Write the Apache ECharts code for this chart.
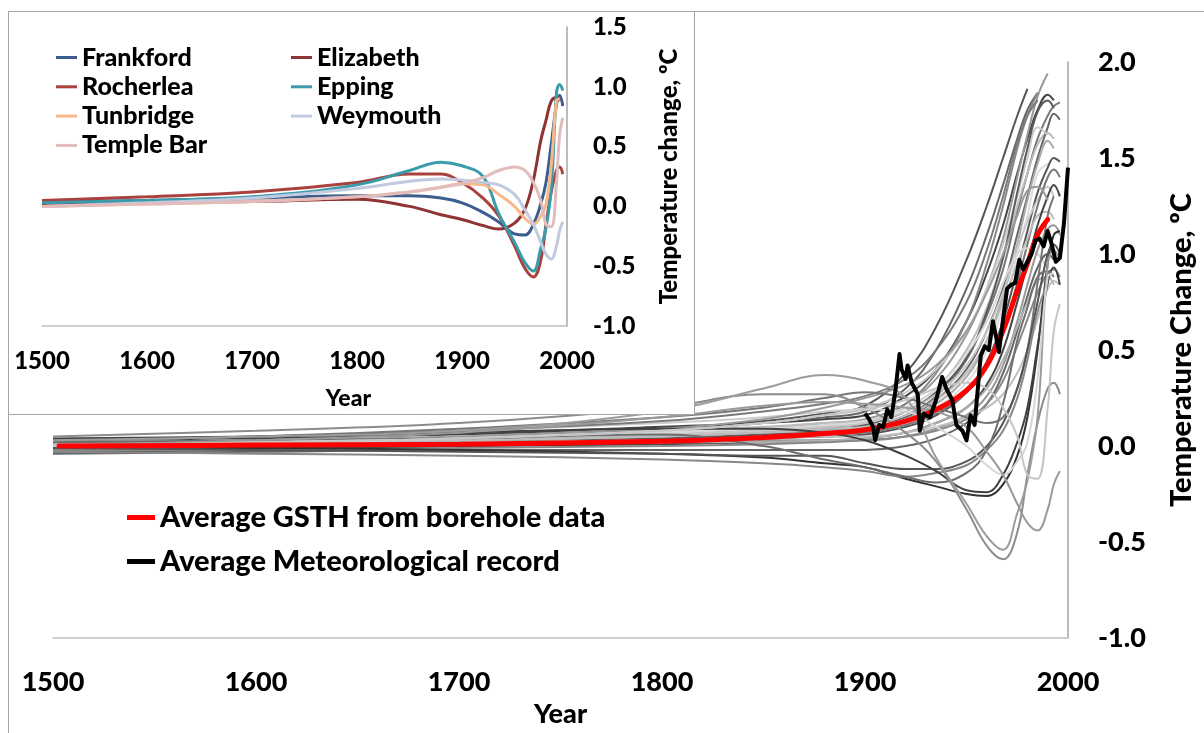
<!DOCTYPE html>
<html>
<head>
<meta charset="utf-8">
<title>Ground surface temperature histories</title>
<script src="https://cdn.jsdelivr.net/npm/echarts@6/dist/echarts.min.js"></script>
<style>
  html, body { margin: 0; padding: 0; background: #fff; }
  #chart { width: 1204px; height: 733px; }
</style>
</head>
<body>
<div id="chart"></div>
<script>
// years at which every borehole curve was read
const years = [1500, 1600, 1700, 1800, 1850, 1880, 1900, 1920, 1935, 1950, 1960, 1968, 1975, 1980, 1985, 1990, 1993, 1996];

// the seven sites of the inset (also drawn grey in the main chart)
const frankford = [0.04, 0.05, 0.07, 0.09, 0.09, 0.07, 0.03, -0.05, -0.13, -0.23, -0.24, -0.15, 0.02, 0.20, 0.52, 0.85, 0.93, 0.84];
const elizabeth = [0.02, 0.03, 0.04, 0.06, 0.00, -0.07, -0.11, -0.16, -0.19, -0.14, -0.02, 0.22, 0.55, 0.72, 0.88, 0.91, 0.88, null];
const rocherlea = [0.05, 0.08, 0.12, 0.20, 0.27, 0.27, 0.20, 0.07, -0.08, -0.33, -0.52, -0.59, -0.45, -0.15, 0.12, 0.30, 0.33, 0.27];
const epping = [0.03, 0.05, 0.08, 0.18, 0.30, 0.37, 0.34, 0.25, -0.06, -0.30, -0.47, -0.54, -0.35, -0.18, 0.15, 0.95, 1.02, 0.97];
const tunbridge = [0.00, 0.02, 0.04, 0.08, 0.12, 0.16, 0.19, 0.18, 0.10, 0.00, -0.10, -0.15, -0.08, 0.02, 0.35, 0.88, 0.90, null];
const weymouth = [0.00, 0.03, 0.07, 0.15, 0.21, 0.23, 0.22, 0.20, 0.18, 0.10, -0.03, -0.15, -0.30, -0.40, -0.44, -0.33, -0.20, -0.13];
const templeBar = [0.00, 0.02, 0.04, 0.08, 0.12, 0.16, 0.19, 0.24, 0.30, 0.33, 0.30, 0.20, 0.05, -0.15, -0.17, 0.20, 0.60, 0.74];

// other boreholes, main chart only
const strongRisers = [
  [0.02, 0.03, 0.05, 0.09, 0.13, 0.17, 0.21, 0.38, 0.62, 0.97, 1.25, 1.50, 1.72, 1.86, null, null, null, null],
  [0.00, 0.02, 0.04, 0.08, 0.12, 0.15, 0.18, 0.30, 0.50, 0.82, 1.10, 1.36, 1.60, 1.75, 1.84, null, null, null],
  [0.03, 0.04, 0.06, 0.10, 0.12, 0.14, 0.16, 0.26, 0.40, 0.65, 0.90, 1.15, 1.42, 1.60, 1.75, 1.83, 1.80, null],
  [0.01, 0.02, 0.03, 0.06, 0.09, 0.12, 0.14, 0.22, 0.35, 0.58, 0.82, 1.08, 1.40, 1.62, 1.82, 1.94, null, null],
  [-0.02, 0.00, 0.02, 0.05, 0.08, 0.10, 0.12, 0.22, 0.38, 0.65, 0.95, 1.25, 1.55, 1.72, 1.84, null, null, null],
  [0.00, 0.01, 0.02, 0.04, 0.06, 0.08, 0.10, 0.16, 0.26, 0.45, 0.68, 0.92, 1.22, 1.42, 1.60, 1.72, 1.77, 1.79],
  [0.02, 0.03, 0.05, 0.08, 0.10, 0.12, 0.13, 0.20, 0.30, 0.50, 0.72, 0.98, 1.25, 1.42, 1.57, 1.63, 1.60, null],
  [0.00, 0.01, 0.03, 0.05, 0.07, 0.09, 0.10, 0.15, 0.24, 0.40, 0.60, 0.82, 1.10, 1.30, 1.50, 1.66, 1.73, 1.70],
  [0.03, 0.05, 0.08, 0.12, 0.15, 0.18, 0.20, 0.28, 0.40, 0.60, 0.82, 1.05, 1.30, 1.50, 1.66, 1.62, null, null],
  [0.03, 0.05, 0.08, 0.13, 0.18, 0.22, 0.26, 0.35, 0.50, 0.75, 1.02, 1.30, 1.58, 1.72, 1.80, null, null, null],
  [0.00, 0.01, 0.02, 0.04, 0.06, 0.08, 0.11, 0.18, 0.28, 0.46, 0.70, 0.98, 1.32, 1.55, 1.74, 1.80, 1.76, null]
];
const moderateRisers = [
  [0.01, 0.02, 0.03, 0.05, 0.07, 0.08, 0.09, 0.14, 0.22, 0.36, 0.55, 0.78, 1.05, 1.28, 1.47, 1.59, 1.55, null],
  [-0.01, 0.00, 0.01, 0.03, 0.05, 0.07, 0.08, 0.13, 0.20, 0.33, 0.50, 0.72, 1.00, 1.20, 1.42, 1.47, null, null],
  [-0.03, -0.02, 0.00, 0.02, 0.04, 0.05, 0.06, 0.10, 0.16, 0.28, 0.44, 0.65, 0.92, 1.12, 1.32, 1.45, 1.50, 1.48],
  [0.02, 0.03, 0.04, 0.06, 0.08, 0.10, 0.12, 0.18, 0.27, 0.42, 0.60, 0.80, 1.03, 1.17, 1.28, 1.35, 1.30, null],
  [0.00, 0.01, 0.02, 0.03, 0.05, 0.06, 0.07, 0.11, 0.17, 0.28, 0.42, 0.60, 0.85, 1.05, 1.25, 1.40, 1.44, 1.40],
  [0.01, 0.02, 0.03, 0.05, 0.07, 0.09, 0.10, 0.16, 0.24, 0.38, 0.55, 0.75, 0.95, 1.08, 1.20, 1.22, 1.18, null],
  [-0.02, -0.01, 0.00, 0.01, 0.02, 0.03, 0.04, 0.07, 0.12, 0.20, 0.32, 0.50, 0.75, 0.95, 1.15, 1.30, 1.36, 1.30],
  [0.02, 0.03, 0.05, 0.07, 0.09, 0.11, 0.13, 0.20, 0.30, 0.48, 0.65, 0.85, 1.00, 1.03, 1.00, 0.92, null, null],
  [-0.01, 0.00, 0.01, 0.02, 0.03, 0.03, 0.03, 0.05, 0.09, 0.16, 0.26, 0.42, 0.65, 0.84, 1.02, 1.13, 1.15, 1.10],
  [0.02, 0.03, 0.05, 0.09, 0.14, 0.20, 0.25, 0.32, 0.42, 0.60, 0.80, 1.00, 1.20, 1.33, 1.35, 1.28, null, null]
];
const lateRisers = [
  [-0.04, -0.03, -0.02, -0.02, -0.02, -0.02, -0.02, 0.00, 0.04, 0.12, 0.22, 0.38, 0.60, 0.78, 0.93, 1.00, 0.97, null],
  [0.00, 0.00, 0.01, 0.02, 0.02, 0.03, 0.04, 0.07, 0.12, 0.20, 0.30, 0.45, 0.62, 0.75, 0.86, 0.88, 0.84, null],
  [-0.02, -0.02, -0.01, 0.00, 0.01, 0.02, 0.03, 0.05, 0.08, 0.14, 0.22, 0.34, 0.52, 0.66, 0.80, 0.90, 0.92, 0.88],
  [0.01, 0.01, 0.02, 0.03, 0.04, 0.05, 0.05, 0.07, 0.10, 0.15, 0.20, 0.27, 0.38, 0.50, 0.66, 0.82, 0.86, 0.84],
  [0.00, -0.01, -0.02, -0.04, -0.06, -0.09, -0.11, -0.17, -0.21, -0.25, -0.26, -0.20, -0.05, 0.15, 0.50, 0.95, 1.10, 1.12],
  [0.03, 0.05, 0.09, 0.15, 0.20, 0.25, 0.28, 0.25, 0.20, 0.15, 0.12, 0.15, 0.30, 0.50, 0.85, 1.20, 1.30, null],
  [-0.01, -0.02, -0.03, -0.04, -0.05, -0.05, -0.09, -0.12, -0.12, -0.08, 0.00, 0.12, 0.30, 0.50, 0.75, 1.00, 1.05, 1.00],
  [-0.03, -0.04, -0.05, -0.07, -0.09, -0.11, -0.13, -0.16, -0.14, -0.10, -0.02, 0.08, 0.25, 0.45, 0.70, 0.85, null, null]
];

// average ground surface temperature history
const gsthYears = [1503, 1600, 1700, 1800, 1850, 1880, 1900, 1920, 1935, 1950, 1960, 1968, 1975, 1980, 1985, 1990];
const gsthValues = [0.00, 0.005, 0.01, 0.025, 0.045, 0.065, 0.085, 0.13, 0.19, 0.29, 0.42, 0.60, 0.81, 0.95, 1.10, 1.18];

// average meteorological record
const metYears = [1900, 1902, 1904, 1905, 1907, 1909, 1911, 1913, 1915, 1917, 1918, 1920, 1921, 1923, 1926, 1927, 1929, 1930, 1932, 1935, 1938, 1940, 1943, 1945, 1948, 1950, 1952, 1954, 1957, 1959, 1961, 1963, 1964, 1966, 1968, 1970, 1972, 1974, 1976, 1978, 1980, 1982, 1984, 1986, 1988, 1990, 1992, 1994, 1996, 1998, 2000];
const metValues = [0.17, 0.14, 0.10, 0.03, 0.11, 0.10, 0.19, 0.15, 0.29, 0.48, 0.40, 0.35, 0.42, 0.33, 0.27, 0.08, 0.17, 0.16, 0.15, 0.24, 0.36, 0.30, 0.24, 0.11, 0.08, 0.03, 0.16, 0.11, 0.47, 0.52, 0.50, 0.65, 0.60, 0.49, 0.66, 0.82, 0.84, 0.85, 0.97, 0.92, 0.96, 1.00, 1.07, 1.08, 1.04, 1.12, 1.05, 0.96, 0.98, 1.16, 1.45];

const siteNames = ['Frankford', 'Elizabeth', 'Rocherlea', 'Epping', 'Tunbridge', 'Weymouth', 'Temple Bar'];
const siteValues = [frankford, elizabeth, rocherlea, epping, tunbridge, weymouth, templeBar];
const siteColors = ['#3b5d8f', '#8f3432', '#a9413d', '#3a9bab', '#f9b98a', '#c2cae0', '#e2bcbc'];
const siteGreys = ['#404040', '#6e6e6e', '#8c8c8c', '#9c9c9c', '#d6d6d6', '#9a9a9a', '#c6c6c6'];
const strongGreys = ['#555555', '#666666', '#444444', '#999999', '#888888', '#777777', '#bbbbbb', '#666666', '#cccccc', '#7a7a7a', '#5a5a5a'];
const moderateGreys = ['#aaaaaa', '#dddddd', '#555555', '#c8c8c8', '#777777', '#bdbdbd', '#444444', '#d8d8d8', '#999999', '#9a9a9a'];
const lateGreys = ['#666666', '#b0b0b0', '#888888', '#c0c0c0', '#333333', '#777777', '#555555', '#888888'];

const gsthName = 'Average GSTH from borehole data';
const metName = 'Average Meteorological record';
const font = 'Lato, "Liberation Sans", sans-serif';

const toPoints = (xs, vs) => xs.map((x, i) => [x, vs[i]]).filter((p) => p[1] !== null);

function greyLine(vals, color, i) {
  return {
    name: 'borehole ' + i,
    type: 'line',
    xAxisIndex: 0,
    yAxisIndex: 0,
    data: toPoints(years, vals),
    smooth: 0.4,
    showSymbol: false,
    silent: true,
    z: 2,
    lineStyle: { color: color, width: 2 },
  };
}

const series = [];
let n = 0;
strongRisers.forEach((v, i) => series.push(greyLine(v, strongGreys[i], n++)));
moderateRisers.forEach((v, i) => series.push(greyLine(v, moderateGreys[i], n++)));
lateRisers.forEach((v, i) => series.push(greyLine(v, lateGreys[i], n++)));
siteValues.forEach((v, i) => series.push(greyLine(v, siteGreys[i], n++)));

series.push({
  name: gsthName,
  type: 'line',
  xAxisIndex: 0,
  yAxisIndex: 0,
  data: toPoints(gsthYears, gsthValues),
  smooth: 0.4,
  showSymbol: false,
  z: 4,
  color: '#ff0000',
  lineStyle: { color: '#ff0000', width: 5, cap: 'round' },
});
series.push({
  name: metName,
  type: 'line',
  xAxisIndex: 0,
  yAxisIndex: 0,
  data: toPoints(metYears, metValues),
  showSymbol: false,
  z: 5,
  color: '#000000',
  lineStyle: { color: '#000000', width: 4, join: 'round' },
});

// inset series
siteValues.forEach((v, i) => {
  series.push({
    name: siteNames[i],
    type: 'line',
    xAxisIndex: 1,
    yAxisIndex: 1,
    data: toPoints(years, v),
    smooth: 0.4,
    showSymbol: false,
    z: 10,
    color: siteColors[i],
    lineStyle: { color: siteColors[i], width: 3 },
  });
});

const boldText = (size) => ({ fontFamily: font, fontWeight: 900, fontSize: size, color: '#000' });

const option = {
  animation: false,
  backgroundColor: '#fff',
  textStyle: { fontFamily: font },
  grid: [
    { left: 53, right: 131, top: 62, bottom: 90 },
    { left: 42, right: 637, top: 27, bottom: 407 },
  ],
  xAxis: [
    {
      gridIndex: 0,
      type: 'value',
      min: 1500,
      max: 2000,
      interval: 100,
      axisLine: { onZero: false, lineStyle: { color: '#c0c0c0', width: 1.5 } },
      axisTick: { show: false },
      splitLine: { show: false },
      axisLabel: Object.assign(boldText(27), { margin: 31, formatter: (v) => String(v) }),
      name: 'Year',
      nameLocation: 'middle',
      nameGap: 62,
      nameTextStyle: boldText(27),
    },
    {
      gridIndex: 1,
      type: 'value',
      min: 1500,
      max: 2000,
      interval: 100,
      z: 10,
      axisLine: { onZero: false, lineStyle: { color: '#c0c0c0', width: 1.5 } },
      axisTick: { show: false },
      splitLine: { show: false },
      axisLabel: Object.assign(boldText(24), { margin: 23, formatter: (v) => String(v) }),
      name: 'Year',
      nameLocation: 'middle',
      nameGap: 61,
      nameTextStyle: Object.assign(boldText(23), { padding: [0, 0, 0, 88] }),
    },
  ],
  yAxis: [
    {
      gridIndex: 0,
      type: 'value',
      position: 'right',
      min: -1,
      max: 2,
      interval: 0.5,
      axisLine: { show: true, lineStyle: { color: '#a6a6a6', width: 1.5 } },
      axisTick: { show: false },
      splitLine: { show: false },
      axisLabel: Object.assign(boldText(27), { margin: 30, formatter: (v) => v.toFixed(1) }),
      name: 'Temperature Change, ºC',
      nameLocation: 'middle',
      nameGap: 99,
      nameTextStyle: boldText(29),
    },
    {
      gridIndex: 1,
      type: 'value',
      position: 'right',
      min: -1,
      max: 1.5,
      interval: 0.5,
      z: 10,
      axisLine: { show: true, lineStyle: { color: '#a6a6a6', width: 1.5 } },
      axisTick: { show: false },
      splitLine: { show: false },
      axisLabel: Object.assign(boldText(24), { margin: 26, formatter: (v) => v.toFixed(1) }),
      name: 'Temperature change, ºC',
      nameLocation: 'middle',
      nameGap: 90,
      nameTextStyle: boldText(24),
    },
  ],
  legend: [
    {
      data: [gsthName, metName],
      orient: 'vertical',
      left: 127,
      top: 503,
      padding: 0,
      icon: 'rect',
      itemWidth: 28,
      itemHeight: 5,
      itemGap: 15,
      selectedMode: false,
      textStyle: Object.assign(boldText(29), { lineHeight: 29 }),
    },
    {
      data: ['Frankford', 'Rocherlea', 'Tunbridge', 'Temple Bar'],
      orient: 'vertical',
      left: 56,
      top: 45,
      padding: 0,
      z: 10,
      icon: 'rect',
      itemWidth: 21,
      itemHeight: 3,
      itemGap: 4.3,
      selectedMode: false,
      textStyle: Object.assign(boldText(25), { lineHeight: 25 }),
    },
    {
      data: ['Elizabeth', 'Epping', 'Weymouth'],
      orient: 'vertical',
      left: 291,
      top: 45,
      padding: 0,
      z: 10,
      icon: 'rect',
      itemWidth: 21,
      itemHeight: 3,
      itemGap: 4.3,
      selectedMode: false,
      textStyle: Object.assign(boldText(25), { lineHeight: 25 }),
    },
  ],
  graphic: {
    elements: [
      {
        type: 'rect',
        z: 0,
        silent: true,
        shape: { x: 8.5, y: 11.5, width: 1300, height: 900 },
        style: { fill: 'none', stroke: '#a6a6a6', lineWidth: 1 },
      },
      {
        type: 'rect',
        z: 6,
        silent: true,
        shape: { x: 8.5, y: 11.5, width: 686, height: 403 },
        style: { fill: '#ffffff', stroke: '#a6a6a6', lineWidth: 1 },
      },
    ],
  },
  series: series,
};

const chart = echarts.init(document.getElementById('chart'));
chart.setOption(option);
</script>
</body>
</html>
